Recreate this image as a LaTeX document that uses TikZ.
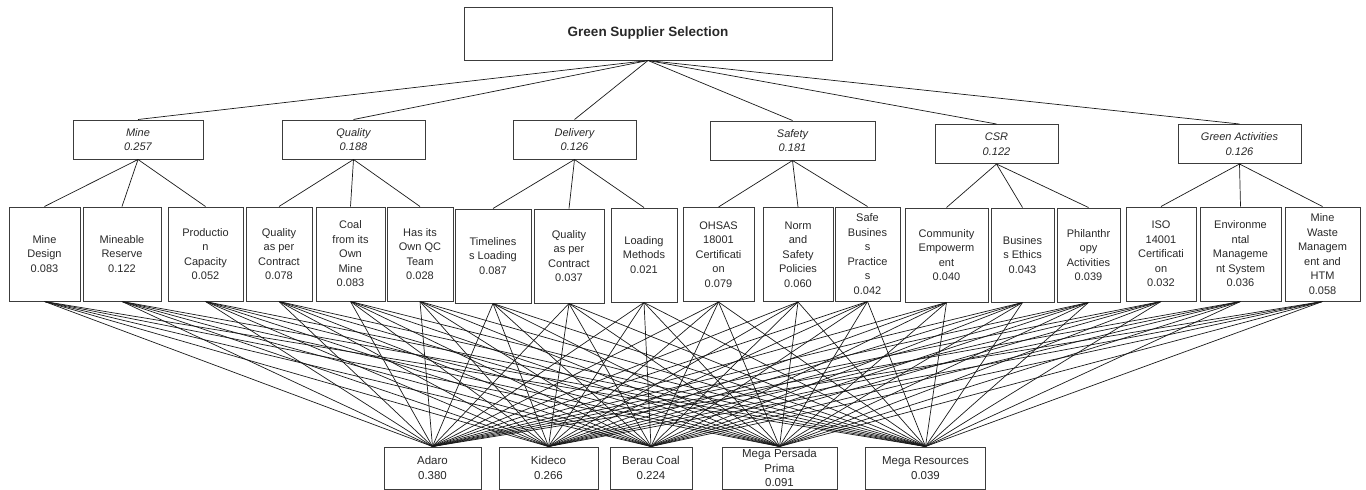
\documentclass[tikz,border=0pt]{standalone}
\usepackage{fontspec}
\setmainfont{Liberation Sans}
\usetikzlibrary{positioning}
\definecolor{boxgray}{RGB}{60,60,60}
\definecolor{linkgray}{RGB}{25,25,25}
\definecolor{textgray}{RGB}{40,40,40}

\begin{document}
\begin{tikzpicture}[
    x=1pt, y=-1pt,
    goalbox/.style={rectangle, draw=boxgray, line width=1pt, minimum width=368pt, minimum height=53pt,
                    inner sep=1pt, text=textgray, font=\fontsize{13.5}{16}\selectfont\bfseries},
    critbox/.style={rectangle, draw=boxgray, line width=1pt, minimum height=39pt, inner sep=1pt,
                    align=center, text=textgray, font=\fontsize{11}{14.5}\selectfont\itshape},
    subbox/.style={rectangle, draw=boxgray, line width=1pt, minimum height=94pt, inner sep=1pt,
                   align=center, text=textgray, font=\fontsize{11}{14.5}\selectfont},
    altbox/.style={rectangle, draw=boxgray, line width=1pt, minimum height=42pt, inner sep=1pt,
                   align=center, text=textgray, font=\fontsize{11.5}{14.5}\selectfont},
    link/.style={draw=linkgray, line width=0.7pt}
]
\useasboundingbox (0,0) rectangle (1366,490);

% Goal
\node[goalbox] (goal) at (648,33.5) {Green Supplier Selection};

% Criteria
\node[critbox, minimum width=130pt] (mine) at (138,139.5) {Mine\\0.257};
\node[critbox, minimum width=143pt] (quality) at (353.5,139.5) {Quality\\0.188};
\node[critbox, minimum width=123pt] (delivery) at (574.5,139.5) {Delivery\\0.126};
\node[critbox, minimum width=165pt] (safety) at (792.5,140.5) {Safety\\0.181};
\node[critbox, minimum width=123pt] (csr) at (996.5,144) {CSR\\0.122};
\node[critbox, minimum width=123pt] (green) at (1239.5,144) {Green Activities\\0.126};

% Sub-criteria
\node[subbox, minimum width=71pt] (s1) at (44.5,254) {Mine\\Design\\0.083};
\node[subbox, minimum width=78pt] (s2) at (122,254) {Mineable\\Reserve\\0.122};
\node[subbox, minimum width=75pt] (s3) at (205.5,254) {Productio\\n\\Capacity\\0.052};
\node[subbox, minimum width=66pt] (s4) at (279,254) {Quality\\as per\\Contract\\0.078};
\node[subbox, minimum width=69pt] (s5) at (350.5,254) {Coal\\from its\\Own\\Mine\\0.083};
\node[subbox, minimum width=66pt] (s6) at (420,254) {Has its\\Own QC\\Team\\0.028};
\node[subbox, minimum width=76pt] (s7) at (493,256) {Timelines\\s Loading\\0.087};
\node[subbox, minimum width=70pt] (s8) at (569,256) {Quality\\as per\\Contract\\0.037};
\node[subbox, minimum width=66pt] (s9) at (644,255) {Loading\\Methods\\0.021};
\node[subbox, minimum width=71pt] (s10) at (718.5,254.5) {OHSAS\\18001\\Certificati\\on\\0.079};
\node[subbox, minimum width=70pt] (s11) at (798,254.5) {Norm\\and\\Safety\\Policies\\0.060};
\node[subbox, minimum width=65pt] (s12) at (867.5,254) {Safe\\Busines\\s\\Practice\\s\\0.042};
\node[subbox, minimum width=83pt] (s13) at (946.5,255) {Community\\Empowerm\\ent\\0.040};
\node[subbox, minimum width=63pt] (s14) at (1022.5,255) {Busines\\s Ethics\\0.043};
\node[subbox, minimum width=63pt] (s15) at (1088.5,255) {Philanthr\\opy\\Activities\\0.039};
\node[subbox, minimum width=70pt] (s16) at (1161,254) {ISO\\14001\\Certificati\\on\\0.032};
\node[subbox, minimum width=81pt] (s17) at (1240.5,254) {Environme\\ntal\\Manageme\\nt System\\0.036};
\node[subbox, minimum width=75pt] (s18) at (1322.5,254) {Mine\\Waste\\Managem\\ent and\\HTM\\0.058};

% Alternatives
\node[altbox, minimum width=97pt] (adaro) at (432.5,468) {Adaro\\0.380};
\node[altbox, minimum width=99pt] (kideco) at (548.5,468) {Kideco\\0.266};
\node[altbox, minimum width=82pt] (berau) at (651,468) {Berau Coal\\0.224};
\node[altbox, minimum width=115pt] (mpp) at (779.5,468) {Mega Persada\\Prima\\0.091};
\node[altbox, minimum width=120pt] (mres) at (925.5,468) {Mega Resources\\0.039};

% Goal to criteria
\foreach \c in {mine,quality,delivery,safety,csr,green}
    \draw[link] (goal.south) -- (\c.north);

% Criteria to sub-criteria
\foreach \c/\s in {mine/s1,mine/s2,mine/s3,quality/s4,quality/s5,quality/s6,
                   delivery/s7,delivery/s8,delivery/s9,safety/s10,safety/s11,safety/s12,
                   csr/s13,csr/s14,csr/s15,green/s16,green/s17,green/s18}
    \draw[link] (\c.south) -- (\s.north);

% Sub-criteria to alternatives
\foreach \s in {1,...,18}
    \foreach \a in {adaro,kideco,berau,mpp,mres}
        \draw[link] (s\s.south) -- (\a.north);

\end{tikzpicture}
\end{document}
